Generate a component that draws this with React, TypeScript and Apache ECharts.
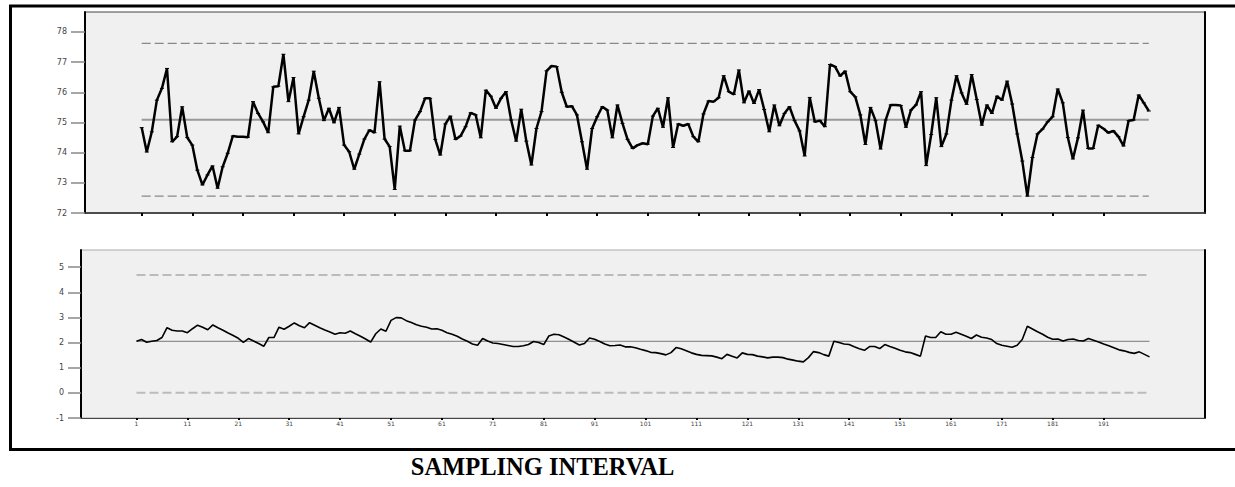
import React, { useEffect, useRef } from "react";
import * as echarts from "echarts";

const xTicks = [1, 11, 21, 31, 41, 51, 61, 71, 81, 91, 101, 111, 121, 131, 141, 151, 161, 171, 181, 191];
const topYTicks = [72, 73, 74, 75, 76, 77, 78];
const botYTicks = [-1, 0, 1, 2, 3, 4, 5];

const topCL = 75.09;
const topUCL = 77.62;
const topLCL = 72.56;
const botCL = 2.05;
const botUCL = 4.69;
const botLCL = 0.0;
const firstSample = 1;
const lastSample = 200;

const topValues = [
  74.83, 74.02, 74.69, 75.74, 76.13, 76.79, 74.36, 74.53, 75.52, 74.5,
  74.25, 73.42, 72.93, 73.26, 73.56, 72.82, 73.53, 73.98, 74.55, 74.53,
  74.53, 74.51, 75.69, 75.3, 75.02, 74.66, 76.18, 76.2, 77.26, 75.69,
  76.49, 74.62, 75.19, 75.74, 76.7, 75.8, 75.06, 75.47, 74.99, 75.5,
  74.25, 74.03, 73.45, 73.95, 74.45, 74.75, 74.66, 76.35, 74.45, 74.2,
  72.78, 74.88, 74.06, 74.06, 75.08, 75.36, 75.8, 75.8, 74.44, 73.92,
  74.95, 75.21, 74.44, 74.55, 74.86, 75.32, 75.25, 74.49, 76.07, 75.87,
  75.47, 75.8, 76.02, 75.08, 74.38, 75.44, 74.38, 73.59, 74.8, 75.36,
  76.71, 76.87, 76.85, 76.0, 75.52, 75.54, 75.25, 74.36, 73.45, 74.8,
  75.19, 75.52, 75.41, 74.49, 75.58, 74.97, 74.44, 74.14, 74.25, 74.31,
  74.28, 75.21, 75.47, 74.84, 75.82, 74.17, 74.95, 74.89, 74.95, 74.53,
  74.36, 75.28, 75.71, 75.69, 75.82, 76.55, 76.02, 75.93, 76.74, 75.65,
  76.04, 75.63, 76.09, 75.43, 74.69, 75.58, 74.89, 75.3, 75.52, 75.06,
  74.72, 73.89, 75.83, 75.02, 75.06, 74.86, 76.92, 76.85, 76.54, 76.7,
  76.02, 75.85, 75.25, 74.27, 75.5, 75.06, 74.12, 75.08, 75.58, 75.58,
  75.56, 74.84, 75.41, 75.58, 76.02, 73.57, 74.6, 75.82, 74.2, 74.62,
  75.74, 76.55, 75.98, 75.6, 76.59, 75.76, 74.91, 75.58, 75.3, 75.87,
  75.74, 76.37, 75.61, 74.62, 73.72, 72.56, 73.84, 74.62, 74.78, 75.02,
  75.19, 76.11, 75.65, 74.5, 73.79, 74.49, 75.41, 74.14, 74.14, 74.91,
  74.8, 74.66, 74.72, 74.53, 74.22, 75.06, 75.08, 75.91, 75.65, 75.38,
];

const bottomValues = [
  2.05, 2.12, 2.01, 2.05, 2.08, 2.2, 2.59, 2.49, 2.46, 2.46,
  2.39, 2.55, 2.69, 2.61, 2.51, 2.7, 2.59, 2.49, 2.38, 2.28,
  2.17, 2.01, 2.16, 2.06, 1.96, 1.85, 2.2, 2.2, 2.61, 2.53,
  2.65, 2.78, 2.67, 2.59, 2.79, 2.69, 2.59, 2.5, 2.42, 2.33,
  2.39, 2.37, 2.46, 2.35, 2.25, 2.14, 2.02, 2.35, 2.54, 2.45,
  2.88, 2.99, 2.98, 2.87, 2.8, 2.71, 2.65, 2.61, 2.54, 2.55,
  2.49, 2.39, 2.33, 2.25, 2.14, 2.05, 1.94, 1.89, 2.16, 2.06,
  1.98, 1.96, 1.92, 1.88, 1.84, 1.84, 1.87, 1.92, 2.04, 2.0,
  1.92, 2.26, 2.33, 2.31, 2.22, 2.12, 2.01, 1.9, 1.96, 2.18,
  2.13, 2.04, 1.94, 1.87, 1.88, 1.9, 1.83, 1.83, 1.79, 1.73,
  1.68, 1.61, 1.6, 1.56, 1.51, 1.6, 1.8, 1.75, 1.67, 1.59,
  1.53, 1.49, 1.48, 1.47, 1.42, 1.36, 1.53, 1.46, 1.39, 1.59,
  1.53, 1.52, 1.46, 1.43, 1.39, 1.42, 1.42, 1.4, 1.34, 1.3,
  1.26, 1.23, 1.4, 1.64, 1.6, 1.52, 1.46, 2.05, 2.0, 1.94,
  1.92, 1.83, 1.75, 1.69, 1.84, 1.84, 1.76, 1.92, 1.84, 1.77,
  1.69, 1.63, 1.6, 1.53, 1.46, 2.26, 2.2, 2.2, 2.43, 2.33,
  2.33, 2.41, 2.33, 2.25, 2.16, 2.3, 2.21, 2.18, 2.12, 1.96,
  1.89, 1.85, 1.81, 1.89, 2.12, 2.65, 2.54, 2.43, 2.33, 2.21,
  2.13, 2.14, 2.06, 2.12, 2.14, 2.08, 2.06, 2.16, 2.09, 2.02,
  1.94, 1.87, 1.79, 1.71, 1.67, 1.61, 1.57, 1.63, 1.53, 1.43,
];

const titleText = "SAMPLING INTERVAL";

export default function App() {
  const ref = useRef<HTMLDivElement>(null);
  useEffect(() => {
    if (!ref.current) return;
    const chart = echarts.init(ref.current, undefined, { renderer: "svg" });
    const refLine = (y: number) => [
      [firstSample, y],
      [lastSample, y],
    ];
    const labelFont = { fontFamily: "DejaVu Sans", fontSize: 8, color: "#444" };
    const yAxisBase = (grid: number, min: number, max: number, ticks: number[], tickLen: number) => ({
      type: "value",
      gridIndex: grid,
      min,
      max,
      axisLine: { show: true, onZero: false, lineStyle: { color: "#000", width: 2 } },
      axisTick: { show: true, customValues: ticks, length: tickLen, lineStyle: { color: "#888", width: 1.5 } },
      axisLabel: { show: true, customValues: ticks, margin: tickLen + 4, ...labelFont },
      splitLine: { show: false },
    });
    const rightAxis = (grid: number, min: number, max: number) => ({
      type: "value",
      gridIndex: grid,
      position: "right",
      min,
      max,
      axisLine: { show: true, onZero: false, lineStyle: { color: "#000", width: 2 } },
      axisTick: { show: false },
      axisLabel: { show: false },
      splitLine: { show: false },
    });
    chart.setOption({
      animation: false,
      backgroundColor: "#fff",
      grid: [
        { left: 85, top: 12, width: 1120, height: 201, show: true, backgroundColor: "#f0f0f0", borderColor: "#444", borderWidth: 1 },
        { left: 81, top: 250, width: 1124, height: 168, show: true, backgroundColor: "#f0f0f0", borderColor: "#aaa", borderWidth: 1 },
      ],
      xAxis: [
        {
          type: "value",
          gridIndex: 0,
          min: -10.2,
          max: 211.1,
          axisLine: { onZero: false, lineStyle: { color: "#333", width: 1.5 } },
          axisTick: { customValues: xTicks, length: 3, lineStyle: { color: "#000", width: 2 } },
          axisLabel: { show: false },
          splitLine: { show: false },
        },
        {
          type: "value",
          gridIndex: 1,
          min: -9.9,
          max: 210.9,
          axisLine: { onZero: false, lineStyle: { color: "#444", width: 1 } },
          axisTick: { customValues: xTicks, length: 2, lineStyle: { color: "#000", width: 2 } },
          axisLabel: { customValues: xTicks, margin: 2, fontFamily: "DejaVu Sans", fontSize: 6, color: "#444" },
          splitLine: { show: false },
        },
      ],
      yAxis: [
        yAxisBase(0, 72, 78.66, topYTicks, 14),
        yAxisBase(1, -1, 5.68, botYTicks, 13),
        rightAxis(0, 72, 78.66),
        rightAxis(1, -1, 5.68),
      ],
      series: [
        { type: "line", xAxisIndex: 0, yAxisIndex: 0, data: refLine(topCL), symbol: "none", lineStyle: { color: "#999", width: 2 }, z: 2 },
        { type: "line", xAxisIndex: 0, yAxisIndex: 0, data: refLine(topUCL), symbol: "none", lineStyle: { color: "#888", width: 1.2, type: [9, 4] }, z: 2 },
        { type: "line", xAxisIndex: 0, yAxisIndex: 0, data: refLine(topLCL), symbol: "none", lineStyle: { color: "#888", width: 1.2, type: [9, 4] }, z: 2 },
        {
          type: "line",
          xAxisIndex: 0,
          yAxisIndex: 0,
          data: topValues.map((v, i) => [i + 1, v]),
          symbol: "rect",
          symbolSize: [4, 1],
          showSymbol: true,
          itemStyle: { color: "#000" },
          lineStyle: { color: "#000", width: 2.5 },
          z: 3,
        },
        { type: "line", xAxisIndex: 1, yAxisIndex: 1, data: refLine(botCL), symbol: "none", lineStyle: { color: "#777", width: 1 }, z: 2 },
        { type: "line", xAxisIndex: 1, yAxisIndex: 1, data: refLine(botUCL), symbol: "none", lineStyle: { color: "#bbb", width: 2, type: [9, 4] }, z: 2 },
        { type: "line", xAxisIndex: 1, yAxisIndex: 1, data: refLine(botLCL), symbol: "none", lineStyle: { color: "#bbb", width: 2, type: [9, 4] }, z: 2 },
        {
          type: "line",
          xAxisIndex: 1,
          yAxisIndex: 1,
          data: bottomValues.map((v, i) => [i + 1, v]),
          symbol: "none",
          lineStyle: { color: "#000", width: 1.6 },
          z: 3,
        },
      ],
      graphic: [
        {
          type: "rect",
          shape: { x: 10.5, y: 6, width: 1240, height: 443.5 },
          style: { fill: "none", stroke: "#000", lineWidth: 3 },
          silent: true,
        },
        {
          type: "text",
          x: 542.5,
          y: 466.5,
          style: {
            text: titleText,
            fontFamily: "Liberation Serif",
            fontWeight: "bold",
            fontSize: 24.5,
            fill: "#000",
            align: "center",
            verticalAlign: "middle",
          },
        },
      ],
    });
    return () => chart.dispose();
  }, []);
  return <div ref={ref} style={{ position: "absolute", left: 0, top: 0, width: 1235, height: 487 }} />;
}
